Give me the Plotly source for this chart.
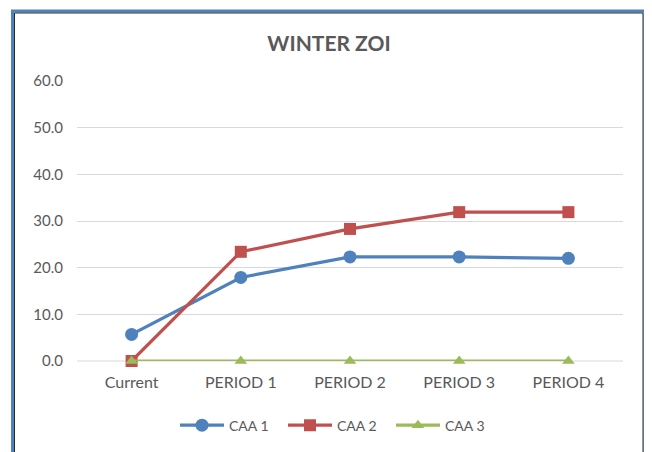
import plotly.graph_objects as go

categories = ["Current", "PERIOD 1", "PERIOD 2", "PERIOD 3", "PERIOD 4"]
caa1 = [5.7, 17.9, 22.3, 22.3, 22.0]
caa2 = [0.0, 23.4, 28.3, 31.9, 31.9]
caa3 = [0.0, 0.0, 0.0, 0.0, 0.0]
tick_vals = [0, 10, 20, 30, 40, 50, 60]
tick_text = ["0.0", "10.0", "20.0", "30.0", "40.0", "50.0", "60.0"]

OFFX, OFFY = 8, 6  # page offsets
W, H = 644, 446
# screen-pixel plot area: x 77..623, y 79..361
L, R, T, B = 77 - OFFX, W - (623 - OFFX), 79 - OFFY, H - (361 - OFFY)
pw, ph = W - L - R, H - T - B

def px(x):
    return (x - OFFX - L) / pw

def py(y):
    return (H - B - (y - OFFY)) / ph

font = "Lato, 'Open Sans', sans-serif"
fig = go.Figure()
series = [
    ("CAA 1", caa1, "#4F81BD", "circle", 13),
    ("CAA 2", caa2, "#C0504D", "square", 12),
    ("CAA 3", caa3, "#9BBB59", "triangle-up", 11),
]
for name, vals, color, sym, size in series:
    fig.add_trace(go.Scatter(
        x=categories, y=vals, name=name, mode="lines+markers",
        line=dict(color=color, width=3.2),
        marker=dict(symbol=sym, size=size, color=color),
        cliponaxis=False,
    ))

fig.update_layout(
    width=W, height=H,
    margin=dict(l=L, r=R, t=T, b=B),
    paper_bgcolor="white", plot_bgcolor="white",
    title=dict(text="<b>WINTER ZOI</b>", x=px(329), xref="paper", xanchor="center",
               y=1 - (42 - OFFY) / H, yanchor="middle",
               font=dict(family=font, size=21, color="#595959")),
    font=dict(family=font, size=14, color="#595959"),
    showlegend=True,
    legend=dict(orientation="h", x=px(337), xanchor="center", y=py(426), yanchor="middle",
                font=dict(size=14, color="#595959"), itemwidth=44,
                entrywidth=49, entrywidthmode="pixels", bgcolor="rgba(0,0,0,0)"),
    xaxis=dict(type="category", range=[-0.5, 4.5], showgrid=False, showline=False,
               ticks="", ticklabelstandoff=10, tickfont=dict(size=16, color="#595959")),
    yaxis=dict(range=[0, 60], tickvals=tick_vals, ticktext=tick_text, showgrid=True,
               gridcolor="#D9D9D9", gridwidth=1, zeroline=False, showline=False,
               ticks="", ticklabelstandoff=13, tickfont=dict(size=15, color="#595959")),
    shapes=[
        dict(type="rect", xref="paper", yref="paper", x0=px(12.5), x1=px(645), y0=py(470), y1=py(8.5),
             line=dict(color="#4F81BD", width=3), fillcolor="rgba(0,0,0,0)", layer="above"),
        dict(type="rect", xref="paper", yref="paper", x0=px(14.5), x1=px(643), y0=py(470), y1=py(10.5),
             line=dict(color="#1F2A3A", width=1), fillcolor="rgba(0,0,0,0)", layer="above"),
        dict(type="line", xref="paper", yref="paper", x0=px(77), x1=px(623), y0=py(361), y1=py(361),
             line=dict(color="#D9D9D9", width=1), layer="below"),
    ],
)

fig.write_html("out.html")
